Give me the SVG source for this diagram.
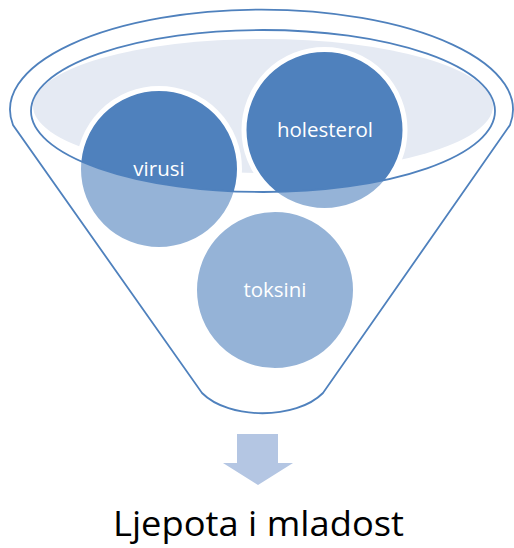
<svg xmlns="http://www.w3.org/2000/svg" width="514" height="548" viewBox="0 0 514 548">
  <style>
    .ring { fill: #4F81BD; stroke: #FFFFFF; stroke-width: 5; }
    .line { fill: none; stroke: #4F81BD; stroke-width: 1.8; }
    .lbl { font-family: "Open Sans", "Noto Sans", "Liberation Sans", sans-serif; font-size: 20.5px; fill: #FFFFFF; text-anchor: middle; }
    .res { font-family: "Open Sans", "Noto Sans", "Liberation Sans", sans-serif; font-size: 35px; fill: #000000; text-anchor: middle; }
  </style>
  <rect width="514" height="548" fill="#FFFFFF"/>
  <g id="funnel-opening">
    <ellipse cx="263" cy="106" rx="230" ry="67" fill="#E5EAF3"/>
  </g>
  <g id="virusi">
    <circle class="ring" cx="159" cy="169" r="80.5"/>
  </g>
  <g id="holesterol">
    <circle class="ring" cx="324.5" cy="130" r="80.5"/>
  </g>
  <g id="toksini">
    <circle class="ring" cx="275" cy="290" r="80.5"/>
  </g>
  <g id="funnel">
    <path d="M 13,125 A 251.5 100 0 1 1 510,125 L 323,393 C 296,420 229,420 202,393 Z M 31,111 A 232 81 0 1 0 495,111 A 232 81 0 1 0 31,111 Z" fill="#FFFFFF" fill-opacity="0.4" fill-rule="evenodd"/>
    <path class="line" d="M 13,125 A 251.5 100 0 1 1 510,125 L 323,393 C 296,420 229,420 202,393 Z"/>
    <ellipse class="line" cx="263" cy="111" rx="232" ry="81"/>
  </g>
  <g id="labels">
    <text class="lbl" x="159" y="176">virusi</text>
    <text class="lbl" x="325" y="137">holesterol</text>
    <text class="lbl" x="275" y="297">toksini</text>
  </g>
  <g id="connectors">
    <path d="M 237,434 L 278,434 L 278,463 L 293,463 L 258,485 L 223,463 L 237,463 Z" fill="#B4C6E3"/>
  </g>
  <g id="result">
    <text class="res" x="258.5" y="536" textLength="291" lengthAdjust="spacingAndGlyphs">Ljepota i mladost</text>
  </g>
</svg>
